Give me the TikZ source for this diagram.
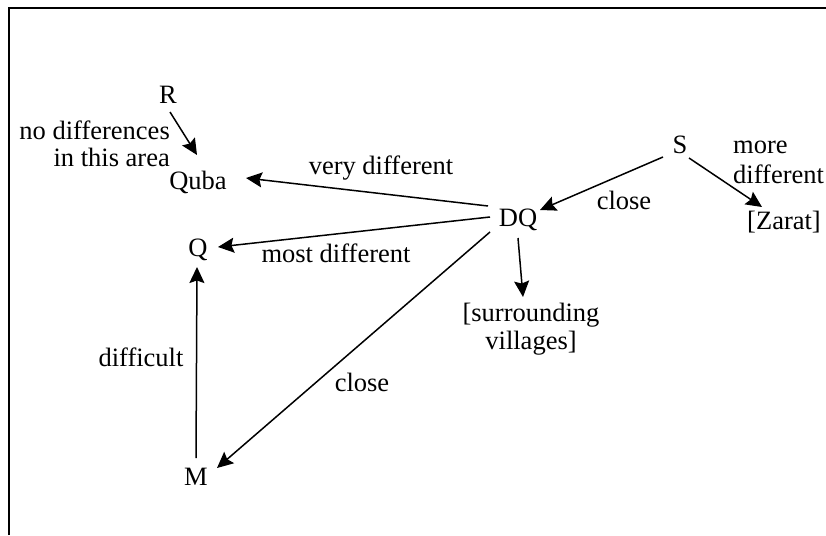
\documentclass[tikz,border=0pt]{standalone}
\usepackage{fontspec}
\setmainfont{Liberation Serif}
\usetikzlibrary{arrows.meta,calc}
\begin{document}
\begin{tikzpicture}[x=1pt,y=-1pt,
  lbl/.style={inner sep=0pt,font=\fontsize{26.5}{28}\selectfont},
  arr/.style={line width=1.5pt,-{Stealth[length=16pt,width=15pt,inset=2.5pt]}},
  frame/.style={line width=2pt}]
\useasboundingbox (0,0) rectangle (826,535);
\draw[frame] (9,535) -- (9,8) -- (826,8);
% nodes
\node[lbl] (R) at (168,95) {R};
\node[lbl,anchor=east,align=right,font=\fontsize{26.5}{27}\selectfont] (nodiff) at (170,144) {no differences\\in this area};
\node[lbl] (Quba) at (198,182) {Quba};
\node[lbl] (S) at (680,145) {S};
\node[lbl,anchor=west,align=left,font=\fontsize{26.5}{30}\selectfont] (moredif) at (733,162) {more\\different};
\node[lbl] (Zarat) at (784,222) {[Zarat]};
\node[lbl] (DQ) at (518,220) {DQ};
\node[lbl] (Q) at (198,250) {Q};
\node[lbl,align=center] (vill) at (531,329) {[surrounding\\villages]};
\node[lbl] (M) at (196,477) {M};
% edge labels
\node[lbl] (lvery) at (381,168) {very different};
\node[lbl] (lclose1) at (624,200) {close};
\node[lbl] (lmost) at (336,253) {most different};
\node[lbl] (ldiff) at (141,357) {difficult};
\node[lbl] (lclose2) at (362,382) {close};
% arrows
\draw[arr] ($(R)+(2,17)$) -- ($(Quba)+(-1,-27)$);
\draw[arr] ($(DQ)+(-30,-14)$) -- ($(Quba)+(48,-4)$);
\draw[arr] ($(DQ)+(-28,-3)$) -- ($(Q)+(20,-3)$);
\draw[arr] ($(DQ)+(-28,12)$) -- ($(M)+(21,-9)$);
\draw[arr] ($(DQ)+(0,18)$) -- ($(vill)+(-8,-32)$);
\draw[arr] ($(S)+(-17,12)$) -- ($(DQ)+(22,-10)$);
\draw[arr] ($(S)+(9,13)$) -- ($(Zarat)+(-22,-15)$);
\draw[arr] ($(M)+(0,-19)$) -- ($(Q)+(-1,17)$);
\end{tikzpicture}
\end{document}
